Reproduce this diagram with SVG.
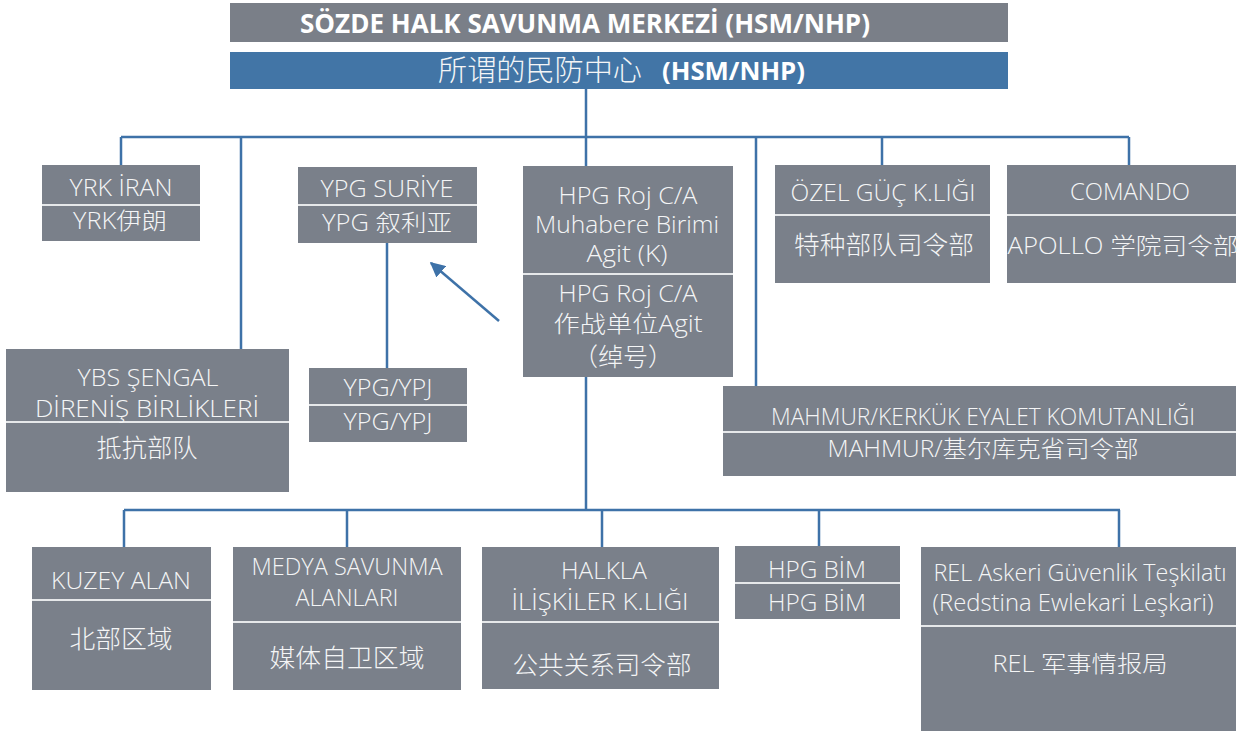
<svg xmlns="http://www.w3.org/2000/svg" width="1242" height="733" viewBox="0 0 1242 733">
<defs>
<style>
.box{fill:#7a808a}
.div{stroke:#e6e8ea;stroke-width:2}
.t{font-family:"Open Sans","Noto Sans CJK SC",sans-serif;font-size:23px;font-weight:300;fill:#f4f5f6;text-anchor:middle}
.c{font-family:"Noto Sans CJK SC",sans-serif;font-size:25px;font-weight:300;fill:#f4f5f6;text-anchor:middle}
.con{fill:none;stroke:#3e72a8;stroke-width:2.5}
</style>
<marker id="ah" viewBox="0 0 10 10" refX="9" refY="5" markerWidth="6" markerHeight="6" markerUnits="strokeWidth" orient="auto">
<path d="M0,0 L10,5 L0,10 z" fill="#3e72a8"/>
</marker>
</defs>
<g id="connectors">
<path class="con" d="M586,89 V166 M121,137 H1129 M121,137 V165 M241,137 V349 M756,137 V386 M882,137 V165 M1129,137 V165 M387,243 V368 M586,377 V510 M124,510 H1120 M124,510 V547 M347,510 V547 M602,510 V547 M819,510 V546 M1119,510 V547"/>
<path class="con" d="M499,321 L431,263" marker-end="url(#ah)"/>
</g>
<g id="title">
<rect x="230" y="3" width="778" height="39" fill="#7a7f88"/>
<text x="585" y="33" font-family="'Open Sans',sans-serif" font-size="26" font-weight="bold" fill="#ffffff" text-anchor="middle" textLength="570" lengthAdjust="spacingAndGlyphs">SÖZDE HALK SAVUNMA MERKEZİ (HSM/NHP)</text>
</g>
<g id="title-cn">
<rect x="230" y="52" width="778" height="37" fill="#4275a6"/>
<text x="438" y="81" font-family="'Noto Sans CJK SC',sans-serif" font-size="29" font-weight="300" fill="#f4f5f6" textLength="204" lengthAdjust="spacingAndGlyphs">所谓的民防中心</text>
<text x="662" y="80" font-family="'Open Sans',sans-serif" font-size="25" font-weight="bold" fill="#ffffff" textLength="143" lengthAdjust="spacingAndGlyphs">(HSM/NHP)</text>
</g>
<g id="yrk">
<rect class="box" x="42" y="165" width="158" height="76"/>
<line class="div" x1="42" y1="205" x2="200" y2="205"/>
<text class="t" x="121" y="196" textLength="103" lengthAdjust="spacingAndGlyphs">YRK İRAN</text>
<text class="t" x="120" y="229" textLength="94" lengthAdjust="spacingAndGlyphs">YRK伊朗</text>
</g>
<g id="ypg-suriye">
<rect class="box" x="298" y="167" width="179" height="76"/>
<line class="div" x1="298" y1="205" x2="477" y2="205"/>
<text class="t" x="387" y="197" textLength="133" lengthAdjust="spacingAndGlyphs">YPG SURİYE</text>
<text class="t" x="387" y="231" textLength="130" lengthAdjust="spacingAndGlyphs">YPG 叙利亚</text>
</g>
<g id="hpg-roj">
<rect class="box" x="523" y="166" width="210" height="211"/>
<line class="div" x1="523" y1="274" x2="733" y2="274"/>
<text class="t" x="628" y="204" textLength="139" lengthAdjust="spacingAndGlyphs">HPG Roj C/A</text>
<text class="t" x="627" y="233" textLength="184" lengthAdjust="spacingAndGlyphs">Muhabere Birimi</text>
<text class="t" x="627" y="262" textLength="81" lengthAdjust="spacingAndGlyphs">Agit (K)</text>
<text class="t" x="628" y="302" textLength="139" lengthAdjust="spacingAndGlyphs">HPG Roj C/A</text>
<text class="t" x="628" y="332" textLength="149" lengthAdjust="spacingAndGlyphs">作战单位Agit</text>
<text class="c" x="623" y="366" font-size="24">（绰号）</text>
</g>
<g id="ozel">
<rect class="box" x="775" y="165" width="215" height="118"/>
<line class="div" x1="775" y1="215" x2="990" y2="215"/>
<text class="t" x="883" y="201" textLength="185" lengthAdjust="spacingAndGlyphs">ÖZEL GÜÇ K.LIĞI</text>
<text class="c" x="884" y="254" textLength="180" lengthAdjust="spacingAndGlyphs">特种部队司令部</text>
</g>
<g id="comando">
<rect class="box" x="1007" y="165" width="229" height="118"/>
<line class="div" x1="1007" y1="215" x2="1236" y2="215"/>
<text class="t" x="1130" y="200" textLength="120" lengthAdjust="spacingAndGlyphs">COMANDO</text>
<text class="t" x="1123" y="254" textLength="231" lengthAdjust="spacingAndGlyphs">APOLLO 学院司令部</text>
</g>
<g id="ybs">
<rect class="box" x="6" y="349" width="283" height="143"/>
<line class="div" x1="6" y1="422" x2="289" y2="422"/>
<text class="t" x="148" y="386" textLength="141" lengthAdjust="spacingAndGlyphs">YBS ŞENGAL</text>
<text class="t" x="147" y="417" textLength="224" lengthAdjust="spacingAndGlyphs">DİRENİŞ BİRLİKLERİ</text>
<text class="c" x="147" y="457" textLength="101" lengthAdjust="spacingAndGlyphs">抵抗部队</text>
</g>
<g id="ypg-ypj">
<rect class="box" x="309" y="368" width="158" height="74"/>
<line class="div" x1="309" y1="405" x2="467" y2="405"/>
<text class="t" x="388" y="396" textLength="89" lengthAdjust="spacingAndGlyphs">YPG/YPJ</text>
<text class="t" x="388" y="430" textLength="89" lengthAdjust="spacingAndGlyphs">YPG/YPJ</text>
</g>
<g id="mahmur">
<rect class="box" x="723" y="386" width="513" height="90"/>
<line class="div" x1="723" y1="432" x2="1236" y2="432"/>
<text class="t" x="983" y="425" textLength="424" lengthAdjust="spacingAndGlyphs">MAHMUR/KERKÜK EYALET KOMUTANLIĞI</text>
<text class="t" x="983" y="457" textLength="311" lengthAdjust="spacingAndGlyphs">MAHMUR/基尔库克省司令部</text>
</g>
<g id="kuzey">
<rect class="box" x="32" y="547" width="179" height="143"/>
<line class="div" x1="32" y1="600" x2="211" y2="600"/>
<text class="t" x="121" y="589" textLength="140" lengthAdjust="spacingAndGlyphs">KUZEY ALAN</text>
<text class="c" x="121" y="648" textLength="103" lengthAdjust="spacingAndGlyphs">北部区域</text>
</g>
<g id="medya">
<rect class="box" x="233" y="547" width="228" height="143"/>
<line class="div" x1="233" y1="622" x2="461" y2="622"/>
<text class="t" x="347" y="575" textLength="191" lengthAdjust="spacingAndGlyphs">MEDYA SAVUNMA</text>
<text class="t" x="347" y="606" textLength="103" lengthAdjust="spacingAndGlyphs">ALANLARI</text>
<text class="c" x="347" y="667" textLength="155" lengthAdjust="spacingAndGlyphs">媒体自卫区域</text>
</g>
<g id="halkla">
<rect class="box" x="482" y="547" width="237" height="142"/>
<line class="div" x1="482" y1="622" x2="719" y2="622"/>
<text class="t" x="604" y="579" textLength="86" lengthAdjust="spacingAndGlyphs">HALKLA</text>
<text class="t" x="600" y="610" textLength="177" lengthAdjust="spacingAndGlyphs">İLİŞKİLER K.LIĞI</text>
<text class="c" x="602" y="674" textLength="179" lengthAdjust="spacingAndGlyphs">公共关系司令部</text>
</g>
<g id="hpg-bim">
<rect class="box" x="735" y="546" width="165" height="73"/>
<line class="div" x1="735" y1="583" x2="900" y2="583"/>
<text class="t" x="817" y="578" textLength="98" lengthAdjust="spacingAndGlyphs">HPG BİM</text>
<text class="t" x="817" y="611" textLength="98" lengthAdjust="spacingAndGlyphs">HPG BİM</text>
</g>
<g id="rel">
<rect class="box" x="921" y="547" width="315" height="184"/>
<line class="div" x1="921" y1="626" x2="1236" y2="626"/>
<text class="t" x="1080" y="581" textLength="293" lengthAdjust="spacingAndGlyphs">REL Askeri Güvenlik Teşkilatı</text>
<text class="t" x="1073" y="611" textLength="281" lengthAdjust="spacingAndGlyphs">(Redstina Ewlekari Leşkari)</text>
<text class="t" x="1080" y="672" textLength="175" lengthAdjust="spacingAndGlyphs">REL 军事情报局</text>
</g>
</svg>
